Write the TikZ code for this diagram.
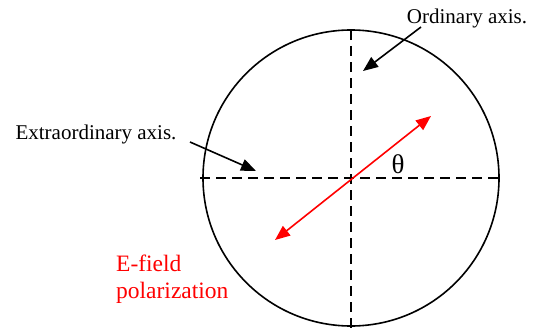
\documentclass[tikz,border=0pt]{standalone}
\usepackage{fontspec}
\setmainfont{Liberation Serif}
\usetikzlibrary{arrows.meta}
\begin{document}
\begin{tikzpicture}[x=1pt,y=-1pt,
  lbl/.style={font=\fontsize{21}{24}\selectfont, inner sep=0pt},
  axisline/.style={line width=2pt, dash pattern=on 10pt off 6pt},
  pointer/.style={line width=1.6pt, -{Triangle[length=15pt,width=12pt]}},
  efield/.style={red, line width=1.6pt, {Triangle[length=15pt,width=12pt]}-{Triangle[length=15pt,width=12pt]}}]
\useasboundingbox (0,0) rectangle (540,329);
\coordinate (c) at (351,178);
\draw[line width=1.6pt] (c) circle (148);
\coordinate (hl) at (200,178);
\coordinate (hr) at (500,178);
\coordinate (vt) at (351,30);
\coordinate (vb) at (351,328);
\draw[axisline] (hl) -- (hr);
\draw[axisline] (vt) -- (vb);
\node[lbl] (ord) at (467,18) {Ordinary axis.};
\node[lbl] (ext) at (96,134) {Extraordinary axis.};
\node[lbl, font=\fontsize{27}{30}\selectfont] (th) at (398,164) {θ};
\node[lbl, red, align=left, anchor=base west, font=\fontsize{23.5}{27}\selectfont] (ef) at (116,298) {E-field\\polarization};
\coordinate (os) at (421,27);
\coordinate (ot) at (363,71);
\coordinate (es) at (190,142);
\coordinate (et) at (256,171);
\draw[pointer] (os) -- (ot);
\draw[pointer] (es) -- (et);
\coordinate (r1) at (431,116);
\coordinate (r2) at (275,240);
\draw[efield] (r2) -- (r1);
\end{tikzpicture}
\end{document}
